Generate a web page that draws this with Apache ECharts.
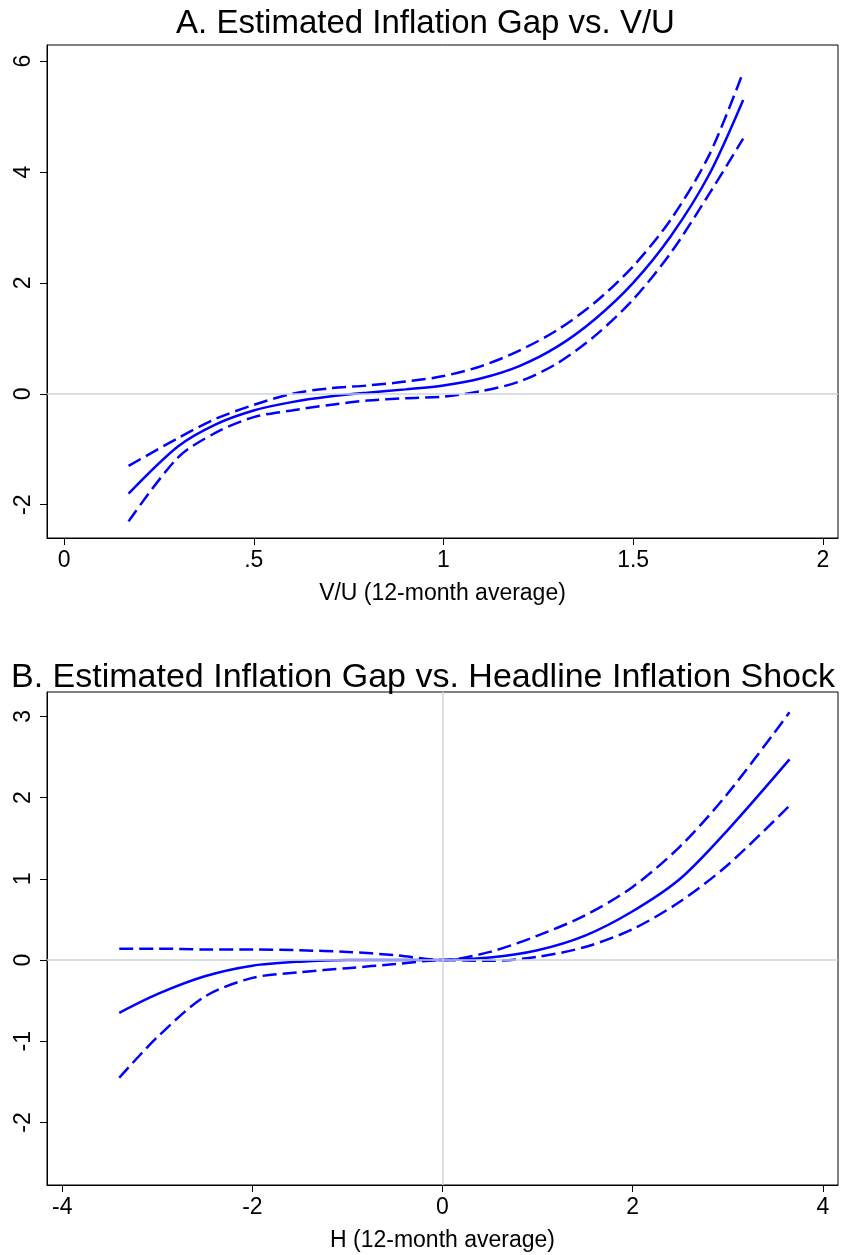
<!DOCTYPE html>
<html>
<head>
<meta charset="utf-8">
<script src="https://cdn.jsdelivr.net/npm/echarts@6/dist/echarts.min.js"></script>
<style>html,body{margin:0;padding:0;background:#fff}#c{width:851px;height:1255px}</style>
</head>
<body>
<div id="c"></div>
<script>
// Panel A: V/U
var vuX = [0.17, 0.3, 0.4, 0.5, 0.6, 0.7, 0.8, 0.9, 1.0, 1.1, 1.2, 1.3, 1.4, 1.5, 1.6, 1.7, 1.79];
var vuMid = [-1.8, -0.95, -0.55, -0.3, -0.15, -0.05, 0.02, 0.08, 0.15, 0.28, 0.5, 0.85, 1.35, 2.0, 2.85, 3.95, 5.3];
var vuUp = [-1.3, -0.8, -0.45, -0.2, 0.0, 0.1, 0.15, 0.22, 0.32, 0.5, 0.78, 1.15, 1.65, 2.3, 3.15, 4.3, 5.8];
var vuLo = [-2.3, -1.15, -0.7, -0.42, -0.3, -0.2, -0.12, -0.08, -0.05, 0.05, 0.22, 0.55, 1.05, 1.7, 2.55, 3.6, 4.6];
var vuXTicks = [0, 0.5, 1, 1.5, 2];
var vuYTicks = [-2, 0, 2, 4, 6];

// Panel B: headline shock
var hX = [-3.4, -3, -2.5, -2, -1.5, -1, -0.5, 0, 0.5, 1, 1.5, 2, 2.5, 3, 3.65];
var hMid = [-0.65, -0.42, -0.2, -0.07, -0.02, 0, 0, 0, 0.03, 0.12, 0.3, 0.6, 1.0, 1.6, 2.47];
var hUp = [0.14, 0.14, 0.13, 0.13, 0.12, 0.1, 0.06, 0, 0.1, 0.3, 0.55, 0.9, 1.4, 2.05, 3.05];
var hLo = [-1.45, -0.95, -0.45, -0.22, -0.15, -0.1, -0.05, 0, -0.01, 0.04, 0.16, 0.38, 0.72, 1.17, 1.9];
var hXTicks = [-4, -2, 0, 2, 4];
var hYTicks = [-2, -1, 0, 1, 2, 3];

var blue = '#0000ff';
var ff = 'Arial, "Liberation Sans", sans-serif';

function pairs(xs, ys) { return xs.map(function (x, i) { return [x, ys[i]]; }); }

function xAxis(idx, min, max, ticks, name, fmt) {
  return {
    gridIndex: idx, type: 'value', min: min, max: max,
    name: name, nameLocation: 'middle', nameGap: 44,
    nameTextStyle: { fontSize: 23, color: '#000', fontFamily: ff },
    axisLine: { show: true, onZero: false, lineStyle: { color: '#000' } },
    axisTick: { show: true, length: 7, customValues: ticks, lineStyle: { color: '#000' } },
    axisLabel: { customValues: ticks, fontSize: 23, color: '#000', fontFamily: ff, margin: 11, formatter: fmt },
    splitLine: { show: false }
  };
}
function yAxis(idx, min, max, ticks) {
  return {
    gridIndex: idx, type: 'value', min: min, max: max,
    axisLine: { show: true, onZero: false, lineStyle: { color: '#000' } },
    axisTick: { show: true, length: 7, customValues: ticks, lineStyle: { color: '#000' } },
    axisLabel: { customValues: ticks, rotate: 90, fontSize: 23, color: '#000', fontFamily: ff, margin: 12 },
    splitLine: { show: false }
  };
}
function line(idx, data, dashed, mark) {
  var s = {
    type: 'line', xAxisIndex: idx, yAxisIndex: idx, data: data, smooth: 0.3,
    symbol: 'none', silent: true,
    lineStyle: { color: blue, width: 2.5, type: dashed ? [14, 6] : 'solid' }
  };
  if (mark) {
    s.markLine = { silent: true, symbol: 'none', label: { show: false },
      lineStyle: { color: '#c8d3de', width: 1.5, type: 'solid' }, data: mark };
  }
  return s;
}

var chart = echarts.init(document.getElementById('c'));
chart.setOption({
  backgroundColor: '#fff',
  animation: false,
  title: [
    { text: 'A. Estimated Inflation Gap vs. V/U', left: 'center', top: 2,
      textStyle: { fontSize: 33, fontWeight: 'normal', color: '#000', fontFamily: ff } },
    { text: 'B. Estimated Inflation Gap vs. Headline Inflation Shock', left: 6, top: 656,
      textStyle: { fontSize: 34, fontWeight: 'normal', color: '#000', fontFamily: ff } }
  ],
  grid: [
    { left: 47, top: 45, width: 791, height: 493, show: true, borderColor: '#000', borderWidth: 1 },
    { left: 47, top: 692, width: 791, height: 493, show: true, borderColor: '#000', borderWidth: 1 }
  ],
  xAxis: [
    xAxis(0, -0.045, 2.04, vuXTicks, 'V/U (12-month average)', function (v) { return String(v).replace(/^0\./, '.'); }),
    xAxis(1, -4.16, 4.16, hXTicks, 'H (12-month average)')
  ],
  yAxis: [yAxis(0, -2.6, 6.29, vuYTicks), yAxis(1, -2.77, 3.3, hYTicks)],
  series: [
    line(0, pairs(vuX, vuMid), false, [{ yAxis: 0 }]),
    line(0, pairs(vuX, vuUp), true),
    line(0, pairs(vuX, vuLo), true),
    line(1, pairs(hX, hMid), false, [{ yAxis: 0 }, { xAxis: 0 }]),
    line(1, pairs(hX, hUp), true),
    line(1, pairs(hX, hLo), true)
  ]
});
</script>
</body>
</html>
